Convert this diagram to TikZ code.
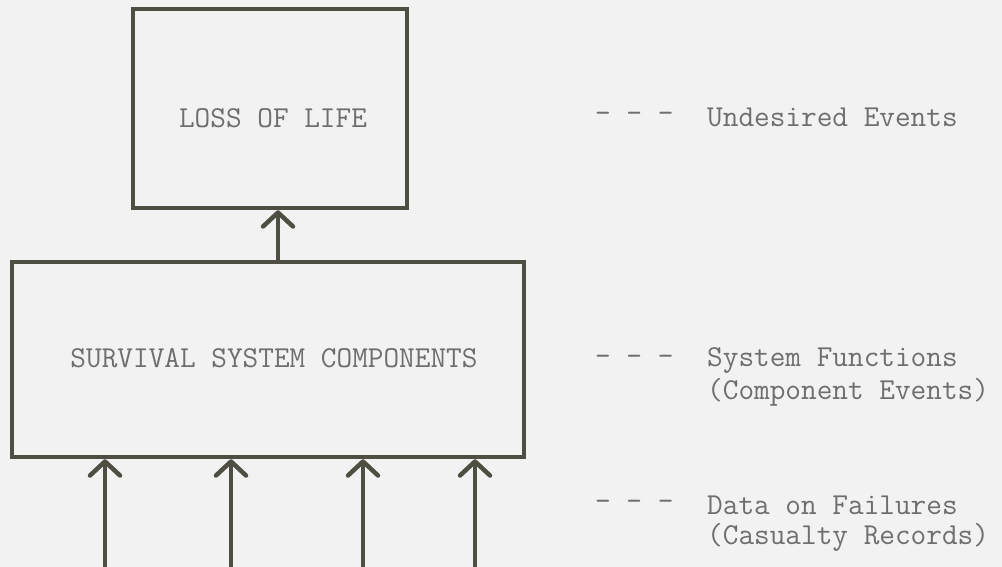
\documentclass[tikz,border=0pt]{standalone}
\usepackage{fontspec}
\setmonofont{Latin Modern Mono}
\usetikzlibrary{arrows.meta}
\definecolor{ink}{RGB}{78,79,66}
\definecolor{txt}{RGB}{110,110,110}
\definecolor{bg}{RGB}{242,242,242}
\tikzset{
  boxnode/.style={draw=ink, line width=4.5pt, inner sep=0pt},
  conn/.style={draw=ink, line width=3.8pt, -{Straight Barb[length=14pt,width=30pt,line width=4.5pt,round]}},
  lbl/.style={text=txt, font=\ttfamily\fontsize{30.4}{32}\selectfont, inner sep=0pt}
}
\begin{document}
\begin{tikzpicture}[x=1pt,y=-1pt]
\fill[bg] (0,0) rectangle (1002,567);
\useasboundingbox (0,0) rectangle (1002,567);
% boxes
\node[boxnode, minimum width=274pt, minimum height=199pt] (loss) at (270,108.5) {};
\node[boxnode, minimum width=512pt, minimum height=195pt] (surv) at (268,359.5) {};
\node[lbl] (lossT) at (273,118) {LOSS OF LIFE};
\node[lbl] (survT) at (274,358) {SURVIVAL SYSTEM COMPONENTS};
% connector between boxes
\draw[conn] (surv.north -| 278,0) -- (loss.south -| 278,0);
% input arrows
\foreach \i/\x in {1/105,2/231,3/363,4/475}{
  \coordinate (in\i) at (\x,567);
  \draw[conn] (in\i) -- (surv.south -| in\i);
}
% side labels
\node[lbl, anchor=west] (d1) at (595,117) {- - -};
\node[lbl, anchor=west] (t1) at (707,117) {Undesired Events};
\node[lbl, anchor=west] (d2) at (595,360) {- - -};
\node[lbl, anchor=west] (t2) at (707,360) {System Functions};
\node[lbl, anchor=west] (t2b) at (707,392) {(Component Events)};
\node[lbl, anchor=west] (d3) at (595,505) {- - -};
\node[lbl, anchor=west] (t3) at (707,505) {Data on Failures};
\node[lbl, anchor=west] (t3b) at (707,537) {(Casualty Records)};
\end{tikzpicture}
\end{document}
